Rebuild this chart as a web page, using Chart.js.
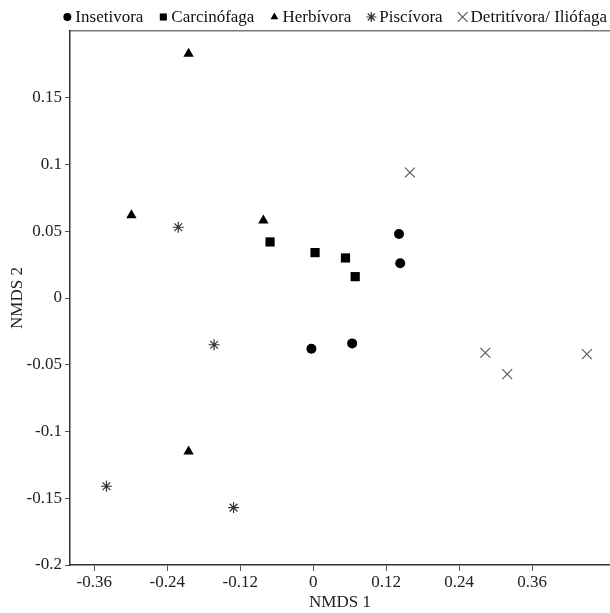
<!DOCTYPE html>
<html>
<head>
<meta charset="utf-8">
<script src="https://cdn.jsdelivr.net/npm/chart.js@4.4.1/dist/chart.umd.min.js"></script>
<style>
  html, body { margin: 0; padding: 0; background: #fff; }
  #wrap { width: 610px; height: 613px; }
</style>
</head>
<body>
<div id="wrap"><canvas id="nmds"></canvas></div>
<script>
// NMDS scores by feeding guild
const groupNames = ['Insetivora', 'Carcinófaga', 'Herbívora', 'Piscívora', 'Detritívora/ Iliófaga'];

const insetivoraX = [0.141, 0.143, -0.003, 0.064];
const insetivoraY = [0.048, 0.026, -0.038, -0.034];

const carcinofagaX = [-0.071, 0.003, 0.053, 0.069];
const carcinofagaY = [0.042, 0.034, 0.030, 0.016];

const herbivoraX = [-0.205, -0.299, -0.082, -0.205];
const herbivoraY = [0.183, 0.062, 0.058, -0.115];

const piscivoraX = [-0.222, -0.163, -0.340, -0.131];
const piscivoraY = [0.053, -0.035, -0.141, -0.157];

const detritivoraX = [0.159, 0.283, 0.319, 0.450];
const detritivoraY = [0.094, -0.041, -0.057, -0.042];

const xTicks = [-0.36, -0.24, -0.12, 0, 0.12, 0.24, 0.36];
const yTicks = [-0.2, -0.15, -0.1, -0.05, 0, 0.05, 0.1, 0.15];

const FONT = 'Liberation Serif, Times New Roman, serif';

const markers = [
  { pointStyle: 'circle', radius: 5, color: '#000', border: 0, legendRadius: 4 },
  { pointStyle: 'rect', radius: 6.5, color: '#000', border: 0, legendRadius: 5 },
  { pointStyle: 'triangle', radius: 6, color: '#000', border: 0, legendRadius: 4.5 },
  { pointStyle: 'star', radius: 5.5, color: '#333', border: 1.2, legendRadius: 5 },
  { pointStyle: 'crossRot', radius: 7, color: '#555', border: 1.1, legendRadius: 7 }
];

const toPoints = (xs, ys) => xs.map((x, i) => ({ x, y: ys[i] }));
const seriesData = [
  toPoints(insetivoraX, insetivoraY),
  toPoints(carcinofagaX, carcinofagaY),
  toPoints(herbivoraX, herbivoraY),
  toPoints(piscivoraX, piscivoraY),
  toPoints(detritivoraX, detritivoraY)
];

const datasets = groupNames.map((name, i) => ({
  label: name,
  data: seriesData[i],
  pointStyle: markers[i].pointStyle,
  pointRadius: markers[i].radius,
  pointHoverRadius: markers[i].radius,
  backgroundColor: markers[i].color,
  borderColor: markers[i].color,
  pointBorderWidth: markers[i].border,
  clip: false,
  xAxisID: 'x',
  yAxisID: 'y'
}));

const fmt = (v) => String(+v.toFixed(2));

// legend row drawn along the top, right-aligned like the original
const topLegend = {
  id: 'topLegend',
  afterDraw(chart) {
    const ctx = chart.ctx;
    ctx.save();
    ctx.font = '17px ' + FONT;
    ctx.textBaseline = 'middle';
    const markGap = 5, itemGap = 13, markW = 10;
    const widths = groupNames.map(n => ctx.measureText(n).width);
    const total = widths.reduce((a, w) => a + markW + markGap + w, 0) + itemGap * (groupNames.length - 1);
    let x = chart.width - 1 - total;
    const y = 17;
    groupNames.forEach((name, i) => {
      const m = markers[i];
      ctx.fillStyle = m.color;
      ctx.strokeStyle = m.color;
      ctx.lineWidth = m.border || 1;
      Chart.helpers.drawPoint(ctx, { pointStyle: m.pointStyle, radius: m.legendRadius, borderWidth: m.border, rotation: 0 }, x + markW / 2, y);
      ctx.fillStyle = '#111';
      ctx.fillText(name, x + markW + markGap - 2, y + 1);
      x += markW + markGap + widths[i] + itemGap;
    });
    ctx.restore();
  }
};

new Chart(document.getElementById('nmds'), {
  type: 'scatter',
  data: { datasets },
  plugins: [topLegend],
  options: {
    responsive: true,
    maintainAspectRatio: false,
    animation: false,
    layout: { autoPadding: false, padding: { top: 31, right: 0, left: 0, bottom: 0 } },
    plugins: {
      legend: { display: false },
      tooltip: { enabled: false }
    },
    scales: {
      x: {
        type: 'linear',
        position: 'bottom',
        min: -0.4,
        max: 0.488,
        afterBuildTicks: (scale) => { scale.ticks = xTicks.map(v => ({ value: v })); },
        afterFit: (scale) => { scale.height = 48; },
        grid: { drawOnChartArea: false, tickLength: 6, color: '#555' },
        border: { color: '#333', width: 1.5 },
        ticks: { color: '#222', font: { family: FONT, size: 17 }, padding: 1, callback: fmt, maxRotation: 0 },
        title: { display: true, text: 'NMDS 1', color: '#222', font: { family: FONT, size: 17 }, padding: 0 }
      },
      top: {
        type: 'linear',
        position: 'top',
        min: 0,
        max: 1,
        afterFit: (scale) => { scale.height = 0; },
        grid: { display: false },
        ticks: { display: false },
        border: { color: '#777', width: 1.5 }
      },
      y: {
        type: 'linear',
        min: -0.2,
        max: 0.2,
        afterBuildTicks: (scale) => { scale.ticks = yTicks.map(v => ({ value: v })); },
        afterFit: (scale) => { scale.width = 70; },
        grid: { drawOnChartArea: false, tickLength: 5, color: '#555' },
        border: { color: '#333', width: 1.5 },
        ticks: { color: '#222', font: { family: FONT, size: 17 }, padding: 3, callback: fmt },
        title: { display: true, text: 'NMDS 2', color: '#222', font: { family: FONT, size: 17 }, padding: { top: 7, bottom: 0 } }
      }
    }
  }
});
</script>
</body>
</html>
